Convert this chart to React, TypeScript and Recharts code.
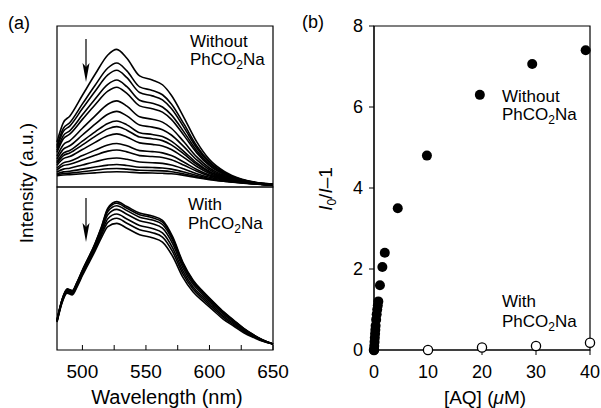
import { Line, LineChart, ReferenceArea, Scatter, ScatterChart, XAxis, YAxis } from "recharts";

const FONT = "'Liberation Sans', Arial, Helvetica, sans-serif";

// (a) upper panel: without PhCO2Na, emission spectra while AQ is added
const waveTop = [480, 485, 490, 500, 510, 520, 527, 535, 545, 555, 563, 570, 580, 590, 600, 612, 625, 640, 650];
const noSalt01 = [28, 40, 44, 57, 70, 82, 85.5, 80, 69, 66.5, 63.5, 57, 43, 28, 17, 9.5, 5, 2.5, 1.8];
const noSalt02 = [25.7, 36.4, 39.9, 51.6, 63.2, 73.9, 77, 72.1, 62.2, 60, 57.3, 51.6, 39, 25.5, 15.6, 8.8, 4.7, 2.4, 1.7];
const noSalt03 = [24.4, 34.5, 37.8, 48.7, 59.5, 69.6, 72.5, 67.9, 58.7, 56.6, 54.1, 48.7, 36.9, 24.2, 14.9, 8.5, 4.6, 2.3, 1.7];
const noSalt04 = [22.8, 31.9, 34.9, 44.8, 54.7, 63.8, 66.5, 62.3, 53.9, 52, 49.7, 44.8, 34.1, 22.5, 13.9, 8, 4.4, 2.3, 1.6];
const noSalt05 = [21.5, 30, 32.8, 42, 51.1, 59.5, 62, 58.1, 50.4, 48.6, 46.5, 42, 31.9, 21.2, 13.2, 7.6, 4.3, 2.2, 1.6];
const noSalt06 = [19.2, 26.3, 28.7, 36.5, 44.2, 51.4, 53.5, 50.2, 43.6, 42.1, 40.3, 36.5, 27.9, 18.7, 11.8, 7, 4, 2.1, 1.5];
const noSalt07 = [17.4, 23.5, 25.6, 32.3, 39, 45.2, 47, 44.2, 38.5, 37.2, 35.6, 32.3, 24.9, 16.8, 10.7, 6.4, 3.8, 2.1, 1.4];
const noSalt08 = [15.7, 21, 22.7, 28.5, 34.2, 39.5, 41, 38.6, 33.7, 32.6, 31.3, 28.5, 22, 15, 9.7, 6, 3.6, 2, 1.4];
const noSalt09 = [14.7, 19.5, 21.1, 26.2, 31.4, 36.1, 37.5, 35.3, 31, 30, 28.8, 26.2, 20.4, 14, 9.2, 5.7, 3.4, 2, 1.3];
const noSalt10 = [13.5, 17.6, 18.9, 23.3, 27.7, 31.8, 33, 31.1, 27.4, 26.5, 25.5, 23.3, 18.2, 12.7, 8.4, 5.3, 3.3, 1.9, 1.3];
const noSalt11 = [11.8, 15, 16, 19.5, 22.9, 26.1, 27, 25.6, 22.6, 22, 21.2, 19.5, 15.4, 10.9, 7.4, 4.9, 3.1, 1.8, 1.2];
const noSalt12 = [10.7, 13.3, 14.1, 16.9, 19.7, 22.3, 23, 21.8, 19.5, 18.9, 18.3, 16.9, 13.5, 9.8, 6.8, 4.5, 3, 1.8, 1.2];
const noSalt13 = [9.3, 11.1, 11.7, 13.7, 15.7, 17.5, 18, 17.2, 15.5, 15.1, 14.7, 13.7, 11.2, 8.3, 6, 4.2, 2.8, 1.7, 1.1];
const noSalt14 = [8.2, 9.4, 9.8, 11.1, 12.4, 13.6, 14, 13.4, 12.3, 12.1, 11.8, 11.1, 9.3, 7.1, 5.3, 3.8, 2.7, 1.7, 1.1];
const noSalt15 = [7.5, 8.4, 8.6, 9.5, 10.4, 11.3, 11.5, 11.1, 10.4, 10.2, 10, 9.5, 8.1, 6.4, 4.9, 3.6, 2.6, 1.7, 1.1];
const noSalt16 = [7, 7.5, 7.7, 8.2, 8.8, 9.3, 9.5, 9.3, 8.8, 8.7, 8.5, 8.2, 7.2, 5.8, 4.6, 3.5, 2.5, 1.6, 1];
const noSaltCurves = [
  noSalt01, noSalt02, noSalt03, noSalt04, noSalt05, noSalt06, noSalt07, noSalt08,
  noSalt09, noSalt10, noSalt11, noSalt12, noSalt13, noSalt14, noSalt15, noSalt16,
];

// (a) lower panel: with PhCO2Na
const waveBottom = [480, 484, 488, 492, 496, 500, 510, 515, 520, 527, 535, 545, 555, 563, 571, 579, 587, 595, 603, 611, 619, 627, 635, 642, 650];
const salt1 = [18.4, 31, 37.5, 36.5, 42, 49, 65.5, 75.6, 87, 91, 88, 84, 82.2, 79.5, 69.5, 54, 43, 35.8, 29.6, 23.5, 18.4, 13.3, 9.2, 6.1, 3.7];
const salt2 = [18.3, 30.9, 37.3, 36.3, 41.8, 48.8, 65.2, 75.1, 86.2, 90, 87, 83, 81.2, 78.5, 68.6, 53.3, 42.5, 35.4, 29.2, 23.2, 18.1, 13.1, 9.1, 6.1, 3.7];
const salt3 = [18.2, 30.6, 37, 36, 41.5, 48.4, 64.6, 74.4, 84.9, 88.5, 85.5, 81.5, 79.7, 77, 67.3, 52.3, 41.6, 34.7, 28.6, 22.6, 17.7, 12.8, 8.9, 6, 3.7];
const salt4 = [17.9, 30.3, 36.6, 35.6, 41, 47.8, 63.9, 73.3, 83, 86.3, 83.3, 79.3, 77.5, 74.8, 65.3, 50.7, 40.4, 33.7, 27.7, 21.9, 17.1, 12.4, 8.6, 5.8, 3.7];
const salt5 = [17.6, 29.9, 36, 35, 40.3, 47.1, 62.8, 71.8, 80.5, 83.4, 80.4, 76.4, 74.6, 71.9, 62.7, 48.7, 38.8, 32.4, 26.6, 20.8, 16.3, 11.8, 8.3, 5.6, 3.7];
const salt6 = [17.4, 29.5, 35.5, 34.5, 39.8, 46.5, 61.9, 70.5, 78.3, 80.8, 77.8, 73.8, 72, 69.3, 60.3, 46.9, 37.4, 31.2, 25.5, 19.9, 15.5, 11.3, 8, 5.5, 3.7];
const salt7 = [17.1, 29, 34.8, 33.8, 39.1, 45.7, 60.8, 68.9, 75.7, 77.7, 74.7, 70.7, 68.9, 66.2, 57.5, 44.7, 35.7, 29.8, 24.3, 18.8, 14.7, 10.6, 7.6, 5.3, 3.7];
const saltCurves = [salt1, salt2, salt3, salt4, salt5, salt6, salt7];

const waveTicks = [500, 525, 550, 575, 600, 625, 650];

// (b) Stern-Volmer plot
const aqWithout = [0, 0.05, 0.1, 0.15, 0.2, 0.25, 0.3, 0.4, 0.5, 0.6, 0.7, 0.8, 1.1, 1.55, 2.0, 4.4, 9.8, 19.6, 29.3, 39.2];
const ratioWithout = [0, 0.1, 0.2, 0.3, 0.4, 0.5, 0.6, 0.75, 0.88, 1.0, 1.1, 1.2, 1.6, 2.05, 2.4, 3.5, 4.8, 6.3, 7.06, 7.4];
const aqWith = [0, 10, 20, 30, 40];
const ratioWith = [0, 0, 0.06, 0.1, 0.18];
const aqTicks = [0, 10, 20, 30, 40];
const ratioTicks = [0, 2, 4, 6, 8];

function toRows(waves: number[], curves: number[][]) {
  return waves.map((w, i) => {
    const row: Record<string, number> = { w };
    curves.forEach((c, k) => {
      row["c" + k] = c[i];
    });
    return row;
  });
}

const topRows = toRows(waveTop, noSaltCurves);
const bottomRows = toRows(waveBottom, saltCurves);
const filledPts = aqWithout.map((x, i) => ({ x, y: ratioWithout[i] }));
const openPts = aqWith.map((x, i) => ({ x, y: ratioWith[i] }));

function WaveTick(props: any) {
  const { x, y, payload } = props;
  return (
    <g>
      <line x1={x} x2={x} y1={y} y2={y - 5} stroke="#000" strokeWidth={1} />
      {payload.value % 50 === 0 && (
        <text x={x} y={y + 28} textAnchor="middle" fontSize={19} fontFamily={FONT} fill="#000">
          {payload.value}
        </text>
      )}
    </g>
  );
}

function Sub2() {
  return (
    <>
      PhCO<tspan fontSize={12} dy={4}>2</tspan>
      <tspan dy={-4}>Na</tspan>
    </>
  );
}

export default function App() {
  const tickStyle = { fill: "#000", fontSize: 18, fontFamily: FONT };
  return (
    <div style={{ position: "absolute", left: 0, top: 0, width: 601, height: 408, background: "#fff", fontFamily: FONT }}>
      <div style={{ position: "absolute", left: 0, top: 0 }}>
        <LineChart width={300} height={200} data={topRows} margin={{ top: 26, right: 27, bottom: 13, left: 57 }}>
          <XAxis dataKey="w" type="number" domain={[480, 650]} hide />
          <YAxis type="number" domain={[0, 100]} hide />
          {noSaltCurves.map((_, k) => (
            <Line key={k} dataKey={"c" + k} type="monotone" stroke="#000" strokeWidth={1.6} dot={false} isAnimationActive={false} />
          ))}
          <ReferenceArea x1={480} x2={650} y1={0} y2={100} fill="none" stroke="#000" strokeWidth={1.2} fillOpacity={0} />
        </LineChart>
      </div>
      <div style={{ position: "absolute", left: 0, top: 180 }}>
        <LineChart width={300} height={228} data={bottomRows} margin={{ top: 7, right: 27, bottom: 18, left: 57 }}>
          <XAxis
            dataKey="w"
            type="number"
            domain={[480, 650]}
            ticks={waveTicks}
            height={40}
            axisLine={false}
            tickLine={false}
            tickSize={0}
            tickMargin={0}
            tick={WaveTick}
            interval={0}
          />
          <YAxis type="number" domain={[0, 100]} hide />
          {saltCurves.map((_, k) => (
            <Line key={k} dataKey={"c" + k} type="monotone" stroke="#000" strokeWidth={1.6} dot={false} isAnimationActive={false} />
          ))}
          <ReferenceArea x1={480} x2={650} y1={0} y2={100} fill="none" stroke="#000" strokeWidth={1.2} fillOpacity={0} />
        </LineChart>
      </div>
      <div style={{ position: "absolute", left: 300, top: 0 }}>
        <ScatterChart width={301} height={408} margin={{ top: 26, right: 11, bottom: 18, left: 34 }}>
          <XAxis
            dataKey="x"
            type="number"
            domain={[0, 40]}
            ticks={aqTicks}
            height={40}
            stroke="#000"
            tickSize={5}
            tickMargin={10}
            tick={tickStyle}
            interval={0}
          />
          <YAxis
            dataKey="y"
            type="number"
            domain={[0, 8]}
            ticks={ratioTicks}
            width={40}
            stroke="#000"
            tickSize={5}
            tickMargin={6}
            tick={tickStyle}
            interval={0}
          />
          <ReferenceArea x1={0} x2={40} y1={0} y2={8} fill="none" stroke="#000" strokeWidth={1.2} fillOpacity={0} />
          <Scatter
            data={openPts}
            isAnimationActive={false}
            shape={(p: any) => <circle cx={p.cx} cy={p.cy} r={4.6} fill="#fff" stroke="#000" strokeWidth={1.3} />}
          />
          <Scatter
            data={filledPts}
            isAnimationActive={false}
            shape={(p: any) => <circle cx={p.cx} cy={p.cy} r={5} fill="#000" />}
          />
        </ScatterChart>
      </div>
      <svg width={601} height={408} style={{ position: "absolute", left: 0, top: 0, pointerEvents: "none" }} fontFamily={FONT} fill="#000">
        <text x={8} y={29} fontSize={18}>(a)</text>
        <text x={302} y={28} fontSize={18}>(b)</text>

        <text x={190} y={47} fontSize={17}>Without</text>
        <text x={190} y={65} fontSize={17}><Sub2 /></text>
        <text x={188} y={210} fontSize={17}>With</text>
        <text x={188} y={229} fontSize={17}><Sub2 /></text>

        <text x={502} y={102} fontSize={17}>Without</text>
        <text x={502} y={120} fontSize={17}><Sub2 /></text>
        <text x={502} y={307} fontSize={17}>With</text>
        <text x={502} y={327} fontSize={17}><Sub2 /></text>

        <text x={167} y={404} fontSize={20} textAnchor="middle">Wavelength (nm)</text>
        <text x={485} y={404} fontSize={19} textAnchor="middle">
          [AQ] (<tspan fontStyle="italic">μ</tspan>M)
        </text>
        <text x={33} y={183} fontSize={19} textAnchor="middle" transform="rotate(-90 33 183)">
          Intensity (a.u.)
        </text>
        <text x={332} y={189} fontSize={19} textAnchor="middle" transform="rotate(-90 332 189)">
          <tspan fontStyle="italic">I</tspan>
          <tspan fontSize={12} dy={4}>0</tspan>
          <tspan dy={-4}>/</tspan>
          <tspan fontStyle="italic">I</tspan>–1
        </text>

        <line x1={86} y1={39} x2={86} y2={68} stroke="#000" strokeWidth={1.2} />
        <polygon points="82.5,63 86,67 89.5,63 86,82" fill="#000" />
        <line x1={86} y1={198} x2={86} y2={228} stroke="#000" strokeWidth={1.2} />
        <polygon points="82.5,223 86,227 89.5,223 86,242" fill="#000" />
      </svg>
    </div>
  );
}
